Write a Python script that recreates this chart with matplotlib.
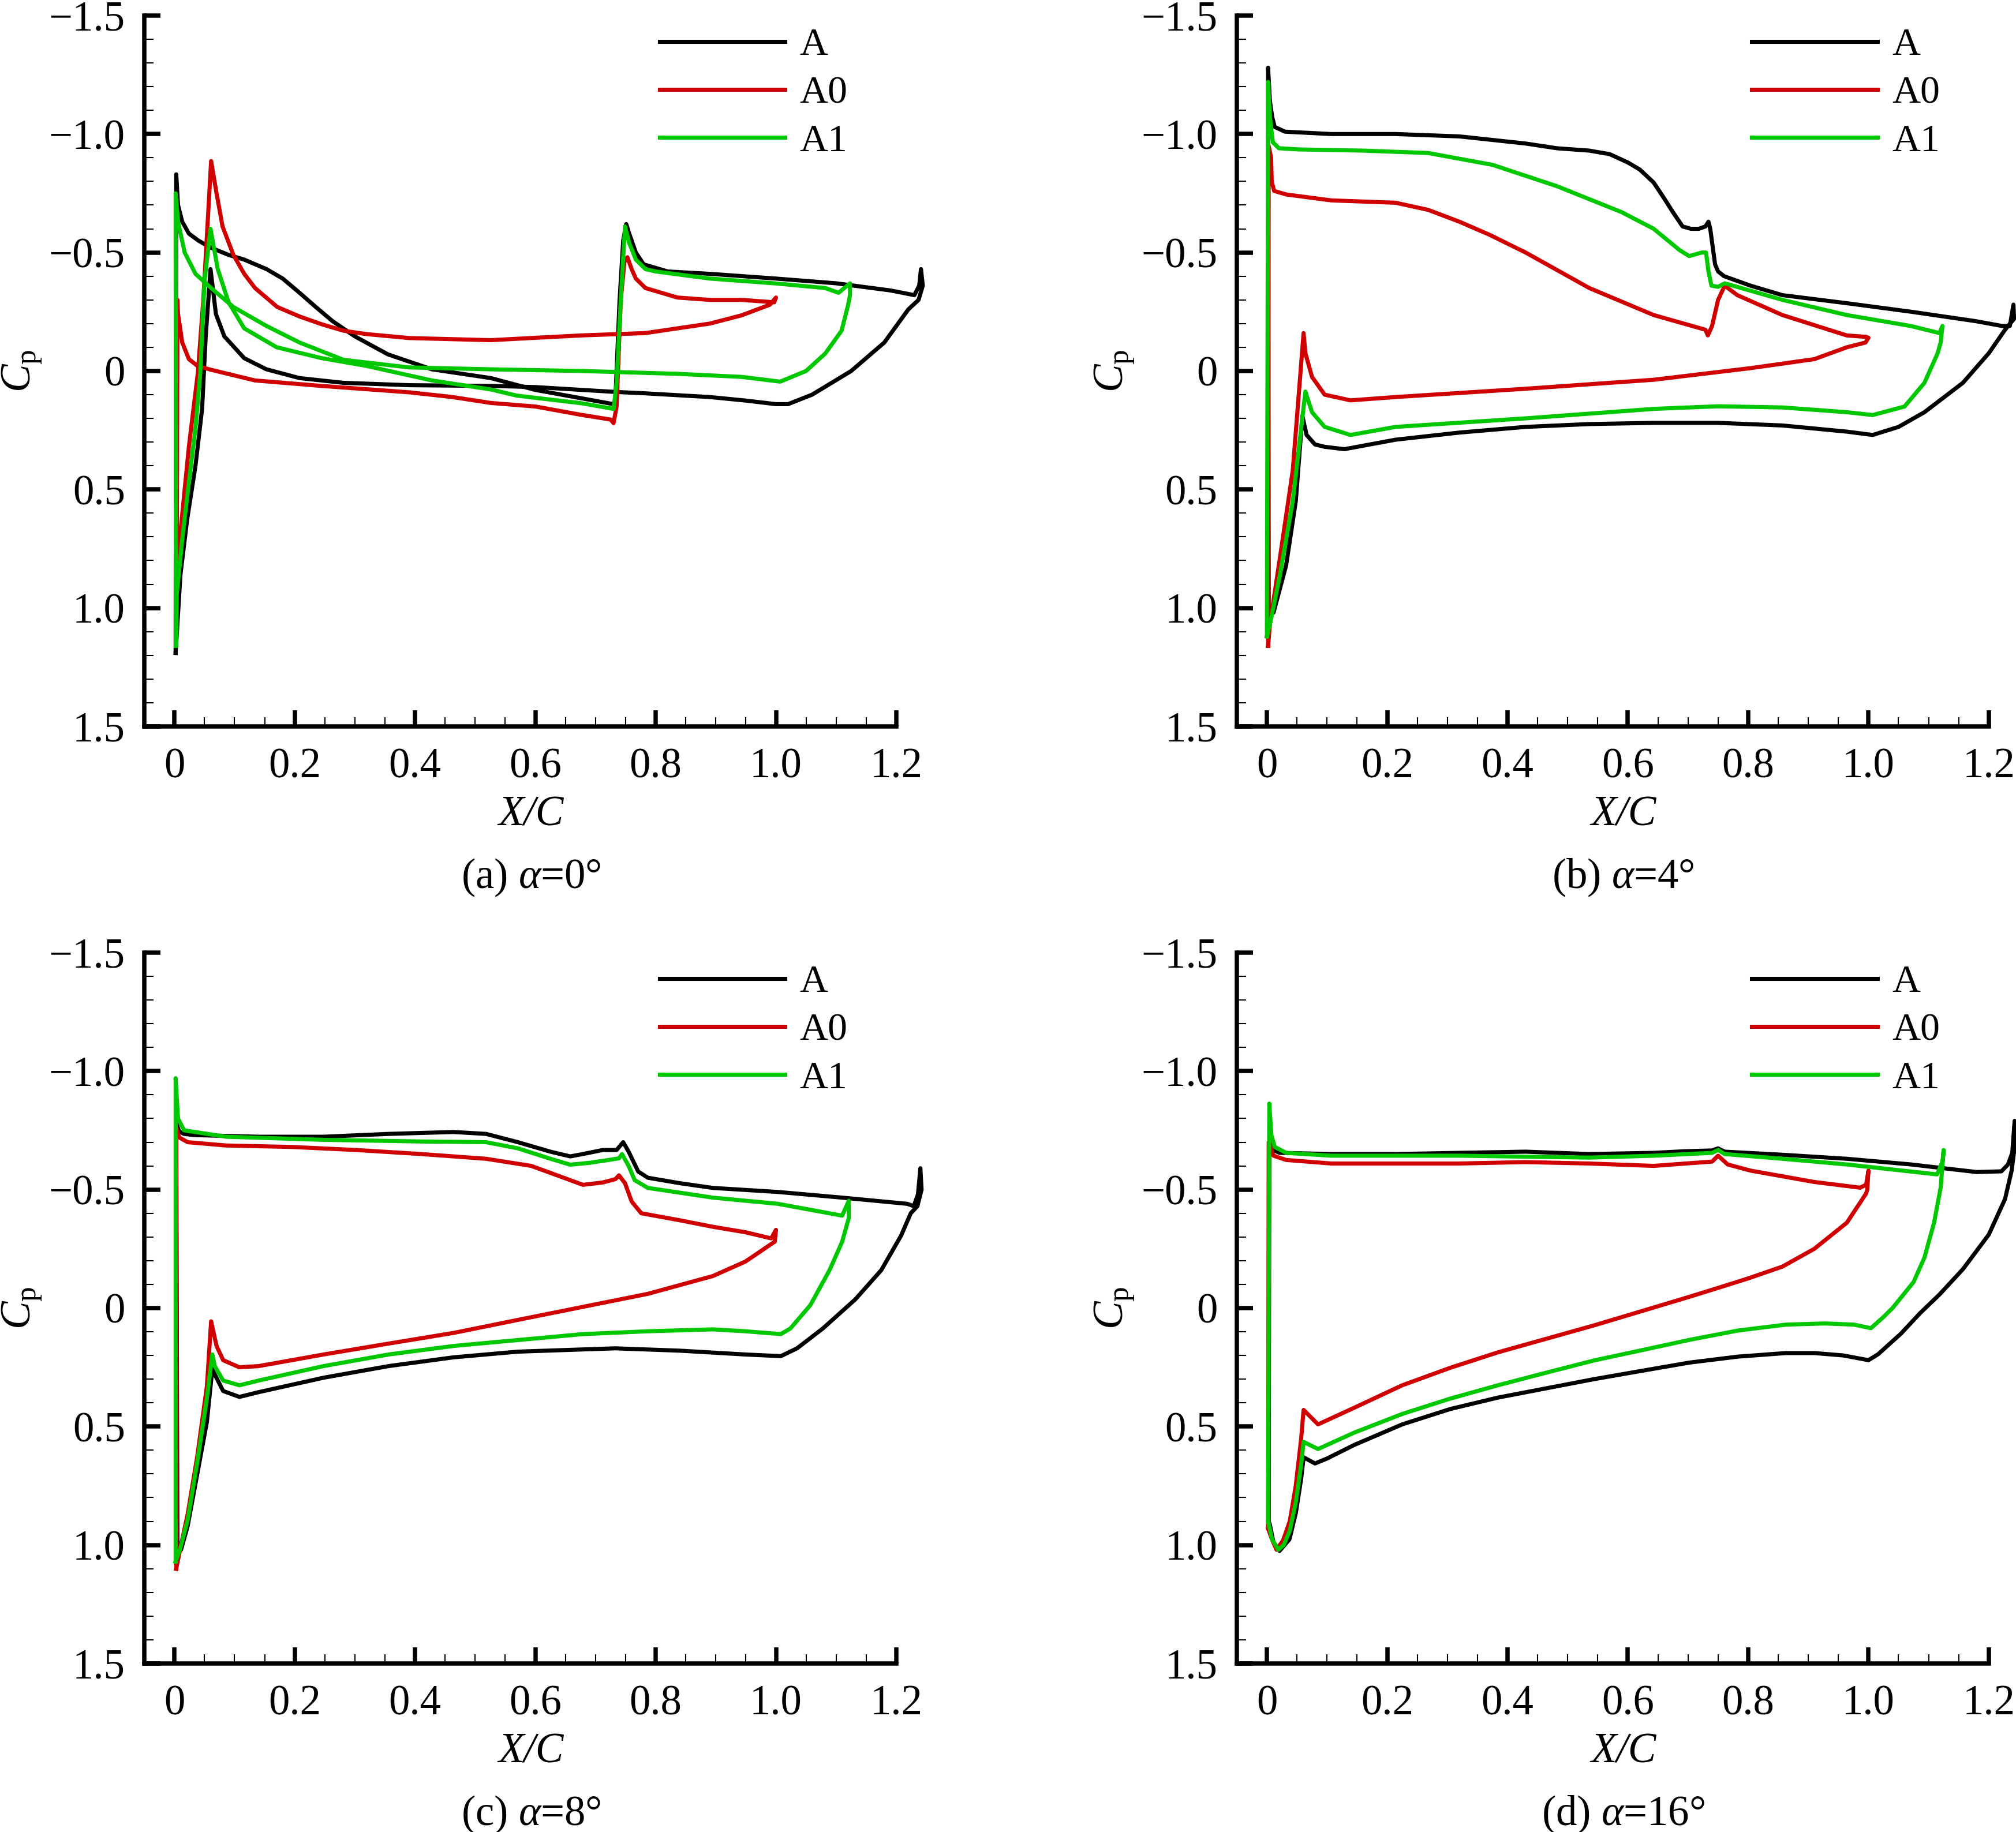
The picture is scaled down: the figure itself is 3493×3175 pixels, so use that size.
import matplotlib
matplotlib.use("Agg")
from matplotlib import pyplot as plt
from matplotlib.ticker import MultipleLocator

# ---- data (X/C, Cp), in drawing order around each section
# (a) alpha = 0
a_A_x = [0.002, 0.003, 0.006, 0.013, 0.024, 0.04, 0.061, 0.09, 0.116, 0.153, 0.18, 0.208, 0.235,
         0.263, 0.3, 0.355, 0.428, 0.526, 0.6, 0.676, 0.73, 0.733, 0.74, 0.746, 0.751, 0.756, 0.767,
         0.78, 0.82, 0.89, 1.0, 1.1, 1.19, 1.23, 1.238, 1.241, 1.244, 1.237, 1.22, 1.18, 1.125, 1.06,
         1.02, 1.0, 0.95, 0.89, 0.78, 0.73, 0.6, 0.526, 0.39, 0.281, 0.208, 0.153, 0.116, 0.083,
         0.069, 0.06, 0.052, 0.046, 0.035, 0.021, 0.01, 0.002]
a_A_cp = [1.19, -0.83, -0.70, -0.63, -0.58, -0.55, -0.52, -0.49, -0.47, -0.43, -0.39, -0.33, -0.27,
          -0.21, -0.146, -0.07, -0.007, 0.03, 0.08, 0.115, 0.14, 0.12, -0.3, -0.55, -0.62, -0.58, -0.50,
          -0.45, -0.42, -0.41, -0.39, -0.37, -0.34, -0.32, -0.36, -0.43, -0.36, -0.30, -0.26, -0.12, 0.0,
          0.1, 0.14, 0.14, 0.125, 0.11, 0.094, 0.088, 0.068, 0.063, 0.06, 0.05, 0.03, -0.007, -0.054,
          -0.146, -0.24, -0.43, -0.146, 0.16, 0.40, 0.63, 0.86, 1.19]
a_A0_x = [0.004, 0.005, 0.006, 0.013, 0.024, 0.039, 0.061, 0.134, 0.244, 0.39, 0.462, 0.526, 0.6,
          0.676, 0.725, 0.73, 0.735, 0.742, 0.748, 0.753, 0.76, 0.767, 0.783, 0.836, 0.89, 0.943,
          0.997, 1.0, 0.99, 0.943, 0.89, 0.783, 0.676, 0.6, 0.526, 0.39, 0.318, 0.281, 0.245, 0.208,
          0.171, 0.134, 0.116, 0.098, 0.08, 0.07, 0.061, 0.048, 0.039, 0.024, 0.012, 0.004]
a_A0_cp = [0.85, -0.30, -0.24, -0.12, -0.05, -0.02, -0.005, 0.04, 0.063, 0.09, 0.11, 0.135, 0.15,
           0.185, 0.205, 0.22, 0.15, -0.3, -0.46, -0.48, -0.43, -0.39, -0.35, -0.31, -0.30, -0.30,
           -0.29, -0.31, -0.28, -0.235, -0.20, -0.16, -0.15, -0.14, -0.13, -0.139, -0.156, -0.17,
           -0.197, -0.23, -0.27, -0.35, -0.41, -0.49, -0.61, -0.75, -0.886, -0.30, 0.007, 0.32, 0.63,
           0.85]
a_A1_x = [0.0025, 0.002, 0.006, 0.017, 0.035, 0.061, 0.098, 0.153, 0.208, 0.281, 0.39, 0.526, 0.676,
          0.836, 0.943, 1.007, 1.05, 1.082, 1.109, 1.12, 1.123, 1.123, 1.104, 1.082, 0.997, 0.89, 0.8,
          0.783, 0.767, 0.756, 0.749, 0.742, 0.735, 0.73, 0.676, 0.569, 0.526, 0.428, 0.318, 0.245,
          0.17, 0.116, 0.09, 0.072, 0.06, 0.05, 0.043, 0.035, 0.024, 0.013, 0.004, 0.0025]
a_A1_cp = [1.16, -0.75, -0.63, -0.50, -0.41, -0.35, -0.27, -0.19, -0.12, -0.047, -0.015, -0.007, 0.0,
           0.012, 0.025, 0.045, 0.0, -0.074, -0.17, -0.28, -0.32, -0.37, -0.33, -0.35, -0.37, -0.39,
           -0.42, -0.43, -0.47, -0.54, -0.61, -0.3, 0.05, 0.16, 0.136, 0.104, 0.078, 0.04, -0.022,
           -0.054, -0.10, -0.18, -0.29, -0.43, -0.60, -0.38, 0.007, 0.24, 0.47, 0.71, 0.94, 1.16]

# (b) alpha = 4
b_A_x = [0.003, 0.002, 0.005, 0.009, 0.013, 0.03, 0.107, 0.214, 0.32, 0.43, 0.482, 0.536, 0.57, 0.6,
         0.62, 0.643, 0.66, 0.675, 0.691, 0.705, 0.718, 0.729, 0.734, 0.737, 0.745, 0.75, 0.76, 0.804,
         0.857, 0.964, 1.071, 1.179, 1.222, 1.235, 1.241, 1.242, 1.227, 1.2, 1.157, 1.093, 1.05, 1.007,
         0.964, 0.857, 0.75, 0.643, 0.536, 0.43, 0.32, 0.214, 0.129, 0.096, 0.08, 0.066, 0.059, 0.048,
         0.032, 0.011, 0.003]
b_A_cp = [1.0, -1.28, -1.14, -1.07, -1.03, -1.01, -1.0, -1.0, -0.99, -0.96, -0.94, -0.93, -0.915,
          -0.88, -0.85, -0.795, -0.73, -0.67, -0.61, -0.60, -0.60, -0.61, -0.63, -0.60, -0.45, -0.42,
          -0.40, -0.36, -0.32, -0.286, -0.25, -0.21, -0.19, -0.19, -0.28, -0.22, -0.174, -0.075, 0.05,
          0.174, 0.236, 0.27, 0.256, 0.23, 0.219, 0.219, 0.224, 0.236, 0.26, 0.29, 0.33, 0.32, 0.31,
          0.27, 0.19, 0.55, 0.82, 1.02, 1.0]
b_A0_x = [0.002, 0.003, 0.007, 0.008, 0.012, 0.032, 0.107, 0.214, 0.268, 0.32, 0.37, 0.43, 0.536,
          0.643, 0.729, 0.733, 0.74, 0.75, 0.761, 0.782, 0.857, 0.964, 0.996, 1.0, 0.995, 0.964, 0.91,
          0.804, 0.643, 0.43, 0.214, 0.139, 0.096, 0.075, 0.064, 0.061, 0.043, 0.021, 0.005, 0.002]
b_A0_cp = [1.16, -0.95, -0.90, -0.80, -0.76, -0.745, -0.72, -0.71, -0.68, -0.63, -0.575, -0.50, -0.35,
           -0.236, -0.174, -0.15, -0.19, -0.30, -0.36, -0.32, -0.236, -0.15, -0.144, -0.14, -0.12,
           -0.10, -0.05, -0.012, 0.037, 0.075, 0.11, 0.124, 0.10, 0.025, -0.075, -0.16, 0.42, 0.80,
           1.07, 1.16]
b_A1_x = [0.0, 0.002, 0.005, 0.01, 0.02, 0.054, 0.16, 0.268, 0.375, 0.482, 0.59, 0.643, 0.686, 0.702,
          0.723, 0.73, 0.734, 0.739, 0.75, 0.761, 0.857, 0.964, 1.07, 1.118, 1.123, 1.12, 1.115, 1.093,
          1.06, 1.007, 0.964, 0.857, 0.75, 0.643, 0.43, 0.214, 0.139, 0.096, 0.075, 0.064, 0.043, 0.021,
          0.005, 0.0]
b_A1_cp = [1.12, -1.22, -1.07, -0.965, -0.94, -0.935, -0.93, -0.92, -0.87, -0.78, -0.67, -0.60, -0.51,
           -0.485, -0.50, -0.50, -0.42, -0.36, -0.355, -0.37, -0.30, -0.236, -0.19, -0.16, -0.19, -0.12,
           -0.075, 0.05, 0.15, 0.186, 0.174, 0.154, 0.149, 0.16, 0.20, 0.236, 0.27, 0.236, 0.174, 0.087,
           0.55, 0.87, 1.07, 1.12]

# (c) alpha = 8
c_A_x = [0.005, 0.003, 0.008, 0.016, 0.032, 0.14, 0.248, 0.356, 0.464, 0.518, 0.571, 0.625, 0.658,
         0.679, 0.712, 0.735, 0.746, 0.755, 0.771, 0.787, 0.84, 0.895, 1.003, 1.11, 1.218, 1.229, 1.236,
         1.24, 1.242, 1.235, 1.224, 1.208, 1.175, 1.132, 1.078, 1.035, 1.008, 0.949, 0.841, 0.733, 0.571,
         0.464, 0.356, 0.248, 0.14, 0.108, 0.081, 0.065, 0.063, 0.054, 0.038, 0.022, 0.011, 0.005]
c_A_cp = [1.0, -0.78, -0.745, -0.735, -0.73, -0.723, -0.723, -0.735, -0.743, -0.735, -0.70, -0.66,
          -0.64, -0.65, -0.667, -0.667, -0.70, -0.66, -0.576, -0.55, -0.527, -0.507, -0.49, -0.466, -0.44,
          -0.43, -0.48, -0.59, -0.50, -0.43, -0.40, -0.306, -0.16, -0.037, 0.086, 0.17, 0.203, 0.196,
          0.18, 0.17, 0.184, 0.208, 0.245, 0.294, 0.355, 0.375, 0.35, 0.27, 0.257, 0.48, 0.70, 0.92,
          1.02, 1.0]
c_A0_x = [0.003, 0.003, 0.008, 0.022, 0.086, 0.194, 0.302, 0.41, 0.518, 0.593, 0.647, 0.679, 0.712,
          0.733, 0.739, 0.749, 0.76, 0.776, 0.841, 0.895, 0.949, 0.992, 1.0, 0.998, 0.992, 0.949, 0.895,
          0.787, 0.679, 0.571, 0.464, 0.356, 0.248, 0.14, 0.108, 0.081, 0.07, 0.061, 0.054, 0.038, 0.022,
          0.011, 0.003]
c_A0_cp = [1.10, -0.76, -0.72, -0.70, -0.686, -0.68, -0.667, -0.65, -0.63, -0.60, -0.55, -0.52, -0.53,
           -0.544, -0.56, -0.527, -0.45, -0.40, -0.37, -0.343, -0.32, -0.294, -0.33, -0.28, -0.27,
           -0.196, -0.135, -0.06, -0.005, 0.05, 0.105, 0.15, 0.196, 0.245, 0.25, 0.22, 0.16, 0.056,
           0.33, 0.625, 0.87, 1.0, 1.10]
c_A1_x = [0.002, 0.002, 0.006, 0.016, 0.086, 0.248, 0.41, 0.518, 0.571, 0.625, 0.658, 0.69, 0.722,
          0.739, 0.744, 0.755, 0.765, 0.787, 0.895, 1.003, 1.11, 1.121, 1.121, 1.11, 1.089, 1.057, 1.024,
          1.008, 0.949, 0.895, 0.787, 0.679, 0.571, 0.464, 0.356, 0.248, 0.14, 0.108, 0.081, 0.067,
          0.063, 0.054, 0.038, 0.022, 0.009, 0.002]
c_A1_cp = [1.07, -0.97, -0.80, -0.75, -0.723, -0.71, -0.703, -0.70, -0.674, -0.63, -0.605, -0.613,
           -0.625, -0.632, -0.65, -0.60, -0.54, -0.507, -0.466, -0.44, -0.39, -0.453, -0.38, -0.28, -0.16,
           -0.012, 0.086, 0.11, 0.098, 0.09, 0.098, 0.11, 0.135, 0.16, 0.196, 0.245, 0.306, 0.326, 0.306,
           0.245, 0.196, 0.38, 0.65, 0.895, 1.02, 1.07]

# (d) alpha = 16
d_A_x = [0.003, 0.004, 0.011, 0.021, 0.107, 0.214, 0.32, 0.43, 0.536, 0.643, 0.696, 0.74, 0.75, 0.761,
         0.857, 0.964, 1.071, 1.125, 1.18, 1.221, 1.232, 1.239, 1.243, 1.242, 1.238, 1.227, 1.2, 1.157,
         1.118, 1.086, 1.054, 1.016, 1.0, 0.958, 0.91, 0.8625, 0.783, 0.703, 0.623, 0.544, 0.464, 0.384,
         0.305, 0.225, 0.145, 0.1, 0.08, 0.061, 0.057, 0.048, 0.0375, 0.021, 0.011, 0.005, 0.003]
d_A_cp = [0.90, -0.70, -0.667, -0.655, -0.65, -0.65, -0.655, -0.66, -0.65, -0.655, -0.662, -0.665,
          -0.674, -0.66, -0.647, -0.63, -0.606, -0.59, -0.574, -0.577, -0.606, -0.655, -0.79, -0.66, -0.58,
          -0.46, -0.31, -0.164, -0.057, 0.021, 0.108, 0.195, 0.22, 0.2, 0.19, 0.19, 0.205, 0.23, 0.265,
          0.3, 0.339, 0.378, 0.426, 0.491, 0.578, 0.635, 0.656, 0.63, 0.72, 0.866, 0.976, 1.025, 0.99,
          0.915, 0.90]
d_A0_x = [0.002, 0.003, 0.011, 0.032, 0.107, 0.214, 0.32, 0.43, 0.536, 0.643, 0.696, 0.74, 0.75, 0.766,
          0.804, 0.91, 0.986, 0.996, 1.0, 0.998, 0.996, 0.964, 0.91, 0.857, 0.8, 0.75, 0.703, 0.623,
          0.544, 0.464, 0.384, 0.305, 0.225, 0.145, 0.085, 0.061, 0.057, 0.048, 0.038, 0.027, 0.016,
          0.0075, 0.002]
d_A0_cp = [0.93, -0.70, -0.643, -0.625, -0.61, -0.61, -0.61, -0.616, -0.61, -0.60, -0.61, -0.618, -0.643,
           -0.606, -0.58, -0.532, -0.508, -0.52, -0.58, -0.50, -0.483, -0.36, -0.25, -0.175, -0.125,
           -0.085, -0.048, 0.013, 0.073, 0.13, 0.187, 0.252, 0.326, 0.421, 0.491, 0.43, 0.55, 0.75, 0.90,
           0.98, 1.02, 0.97, 0.93]
d_A1_x = [0.002, 0.004, 0.0075, 0.013, 0.032, 0.107, 0.32, 0.536, 0.643, 0.74, 0.75, 0.761, 0.857,
          0.964, 1.071, 1.114, 1.123, 1.125, 1.12, 1.109, 1.093, 1.075, 1.056, 1.04, 1.024, 1.004, 0.976,
          0.928, 0.8625, 0.783, 0.703, 0.623, 0.544, 0.464, 0.384, 0.305, 0.225, 0.145, 0.085, 0.061,
          0.057, 0.048, 0.038, 0.028, 0.019, 0.0086, 0.002]
d_A1_cp = [0.90, -0.863, -0.73, -0.68, -0.655, -0.643, -0.643, -0.635, -0.643, -0.655, -0.667, -0.65,
           -0.63, -0.606, -0.576, -0.564, -0.618, -0.667, -0.508, -0.36, -0.213, -0.11, -0.05, 0.0, 0.04,
           0.085, 0.07, 0.065, 0.07, 0.095, 0.134, 0.178, 0.221, 0.273, 0.326, 0.382, 0.447, 0.526,
           0.595, 0.565, 0.66, 0.82, 0.94, 1.0, 1.02, 0.976, 0.90]

series_names = ["A", "A0", "A1"]
series_colors = ["#000000", "#d00000", "#00c800"]
panel_titles = [r"(a) $\alpha$=0°", r"(b) $\alpha$=4°", r"(c) $\alpha$=8°", r"(d) $\alpha$=16°"]
xticks = [0.0, 0.2, 0.4, 0.6, 0.8, 1.0, 1.2]
xtick_labels = ["0", "0.2", "0.4", "0.6", "0.8", "1.0", "1.2"]
yticks = [-1.5, -1.0, -0.5, 0.0, 0.5, 1.0, 1.5]
ytick_labels = ["\u22121.5", "\u22121.0", "\u22120.5", "0", "0.5", "1.0", "1.5"]

panels = [
    [(a_A_x, a_A_cp), (a_A0_x, a_A0_cp), (a_A1_x, a_A1_cp)],
    [(b_A_x, b_A_cp), (b_A0_x, b_A0_cp), (b_A1_x, b_A1_cp)],
    [(c_A_x, c_A_cp), (c_A0_x, c_A0_cp), (c_A1_x, c_A1_cp)],
    [(d_A_x, d_A_cp), (d_A0_x, d_A0_cp), (d_A1_x, d_A1_cp)],
]

plt.rcParams["font.family"] = ["Liberation Serif", "DejaVu Serif"]
plt.rcParams["mathtext.fontset"] = "custom"
plt.rcParams["mathtext.rm"] = "Liberation Serif"
plt.rcParams["mathtext.it"] = "Liberation Serif:italic"

fig = plt.figure(figsize=(3493 / 300, 3175 / 300), dpi=300)

# axes boxes [left, bottom, width, height] in figure fractions
boxes = [
    [0.0716, 0.6035, 0.373, 0.388],
    [0.6135, 0.6035, 0.373, 0.388],
    [0.0716, 0.092, 0.373, 0.388],
    [0.6135, 0.092, 0.373, 0.388],
]

FS = 17.5

for k, box in enumerate(boxes):
    ax = fig.add_axes(box)
    handles = []
    for (xs, cps), name, col in zip(panels[k], series_names, series_colors):
        ln, = ax.plot(xs, cps, color=col, lw=1.7, label=name, clip_on=False,
                      solid_joinstyle="round")
        handles.append(ln)

    ax.set_xlim(-0.05, 1.2)
    ax.set_ylim(1.5, -1.5)
    ax.set_xticks(xticks, labels=xtick_labels)
    ax.set_yticks(yticks, labels=ytick_labels)
    ax.xaxis.set_minor_locator(MultipleLocator(0.05))
    ax.yaxis.set_minor_locator(MultipleLocator(0.1))

    for s in ["top", "right"]:
        ax.spines[s].set_visible(False)
    for s in ["left", "bottom"]:
        ax.spines[s].set_linewidth(1.8)

    ax.tick_params(which="major", direction="in", length=6.7, width=1.8,
                   labelsize=FS)
    ax.tick_params(axis="y", which="major", pad=8)
    ax.tick_params(axis="x", which="major", pad=9)
    ax.tick_params(which="minor", direction="in", length=3.8, width=0.5)

    ax.text(-0.163, 0.5, r"$C_{\mathrm{p}}$", transform=ax.transAxes,
            rotation=90, ha="center", va="center", fontsize=FS)
    ax.text(0.514, -0.125, "X/C", transform=ax.transAxes, ha="center",
            va="center", fontsize=FS, fontstyle="italic")
    ax.text(0.514, -0.213, panel_titles[k], transform=ax.transAxes,
            ha="center", va="center", fontsize=FS)

    ax.legend(handles=handles, loc="upper left", bbox_to_anchor=(0.685, 0.983),
              frameon=False, fontsize=16.3, handlelength=3.2, handletextpad=0.38,
              labelspacing=0.32, borderpad=0, borderaxespad=0)

fig.savefig("out.png", dpi=300)
